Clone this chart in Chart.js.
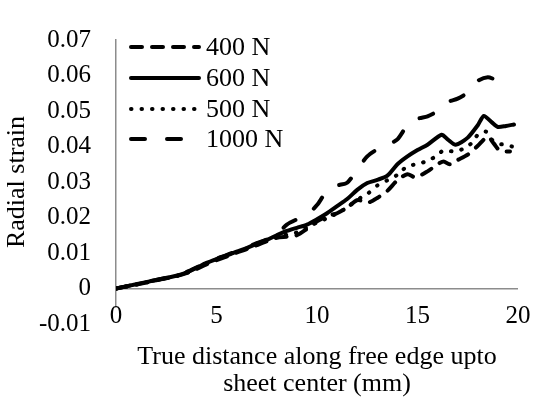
<!DOCTYPE html>
<html>
<head>
<meta charset="utf-8">
<title>Radial strain</title>
<script src="https://cdn.jsdelivr.net/npm/chart.js@4/dist/chart.umd.min.js"></script>
<style>
  html, body { margin: 0; padding: 0; background: #fff; }
  #wrap { width: 534px; height: 398px; }
</style>
</head>
<body>
<div id="wrap"><canvas id="strainChart" width="534" height="398"></canvas></div>
<script>
// Dados (distância em mm, deformação radial)
const dist400 = [0, 1, 2, 3, 3.5, 4, 4.5, 5, 5.5, 6, 6.5, 7, 7.5, 8, 8.5, 9, 9.5, 10, 10.5, 11, 11.5, 12, 12.3, 12.6, 13, 13.5, 14, 14.5, 14.9, 15.5, 16, 16.3, 16.6, 17, 17.5, 18, 18.5, 18.8, 19.1, 19.6];
const strain400 = [0, 0.0011, 0.0023, 0.0035, 0.0043, 0.0055, 0.0068, 0.0080, 0.0090, 0.0101, 0.0111, 0.0122, 0.0133, 0.0143, 0.0146, 0.0150, 0.0168, 0.0189, 0.0204, 0.0212, 0.0228, 0.0249, 0.0246, 0.0243, 0.0255, 0.0275, 0.0305, 0.0322, 0.0313, 0.0330, 0.0350, 0.0358, 0.0350, 0.0362, 0.0377, 0.0402, 0.0428, 0.0408, 0.0388, 0.0386];

const dist600 = [0, 1, 2, 3, 3.5, 4, 4.5, 5, 5.5, 6, 6.5, 7, 7.5, 8, 8.5, 9, 9.5, 10, 10.5, 11, 11.5, 12, 12.5, 13, 13.5, 14, 14.5, 15, 15.5, 16.2, 16.5, 16.9, 17.5, 18, 18.3, 18.7, 19, 19.4, 19.8];
const strain600 = [0, 0.0012, 0.0024, 0.0036, 0.0045, 0.0058, 0.0072, 0.0083, 0.0093, 0.0104, 0.0114, 0.0126, 0.0137, 0.0150, 0.0162, 0.0171, 0.0180, 0.0195, 0.0212, 0.0232, 0.0252, 0.0278, 0.0297, 0.0306, 0.0318, 0.0350, 0.0372, 0.0390, 0.0405, 0.0433, 0.0420, 0.0405, 0.0425, 0.0460, 0.0486, 0.0468, 0.0455, 0.0458, 0.0462];

const dist500 = [0, 1, 2, 3, 3.5, 4, 4.5, 5, 5.5, 6, 6.5, 7, 7.5, 8, 8.5, 9, 9.5, 10, 10.5, 11, 11.5, 12, 12.5, 13, 13.5, 14, 14.5, 15, 15.5, 16, 16.3, 16.8, 17.3, 17.7, 18, 18.4, 18.6, 18.9, 19.3, 19.7];
const strain500 = [0, 0.0011, 0.0023, 0.0035, 0.0044, 0.0056, 0.0070, 0.0082, 0.0092, 0.0103, 0.0113, 0.0124, 0.0135, 0.0147, 0.0152, 0.0158, 0.0172, 0.0186, 0.0198, 0.0212, 0.0228, 0.0250, 0.0266, 0.0290, 0.0305, 0.0320, 0.0345, 0.0350, 0.0360, 0.0375, 0.0390, 0.0386, 0.0394, 0.0410, 0.0433, 0.0442, 0.0425, 0.0410, 0.0405, 0.0400];

const dist1000 = [0, 1, 2, 3, 3.5, 4, 4.5, 5, 5.5, 6, 6.5, 7, 7.5, 8, 8.5, 9, 9.5, 10, 10.5, 11, 11.5, 12, 12.5, 13, 13.5, 14, 14.5, 15, 15.5, 16, 16.5, 17, 17.5, 18, 18.5, 18.9, 19.3, 19.7];
const strain1000 = [0, 0.0012, 0.0024, 0.0036, 0.0046, 0.0059, 0.0073, 0.0084, 0.0094, 0.0105, 0.0116, 0.0128, 0.0138, 0.0152, 0.0180, 0.0195, 0.0207, 0.0235, 0.0275, 0.0290, 0.0298, 0.0335, 0.0372, 0.0392, 0.0405, 0.0420, 0.0460, 0.0478, 0.0485, 0.0500, 0.0525, 0.0535, 0.0552, 0.0585, 0.0595, 0.0588, 0.0584, 0.0592];

const seriesLabels = ['400 N', '600 N', '500 N', '1000 N'];
const xTicks = [0, 5, 10, 15, 20];
const yTicks = [-0.01, 0, 0.01, 0.02, 0.03, 0.04, 0.05, 0.06, 0.07];

const FONT = '"Liberation Serif", "Times New Roman", serif';
const AXIS_GRAY = '#8c8c8c';

function toPoints(xs, ys) {
    return xs.map((x, i) => ({ x: x, y: ys[i] }));
}

function lineStyle(dash) {
    return {
        borderColor: '#000',
        backgroundColor: '#000',
        borderWidth: 4,
        borderDash: dash,
        borderCapStyle: 'round',
        borderJoinStyle: 'round',
        pointRadius: 0,
        pointHoverRadius: 0,
        tension: 0.25,
        fill: false
    };
}

// Legenda desenhada dentro da área do gráfico (como no Excel)
const insideLegend = {
    id: 'insideLegend',
    afterDatasetsDraw(chart) {
        const ctx = chart.ctx;
        const rows = [47, 78, 109, 139];
        chart.data.datasets.forEach((ds, i) => {
            const y = rows[i];
            ctx.save();
            ctx.strokeStyle = ds.borderColor;
            ctx.lineWidth = ds.borderWidth;
            ctx.lineCap = 'round';
            ctx.setLineDash(ds.borderDash || []);
            ctx.beginPath();
            ctx.moveTo(131, y);
            ctx.lineTo(199, y);
            ctx.stroke();
            ctx.setLineDash([]);
            ctx.fillStyle = '#000';
            ctx.font = '26px ' + FONT;
            ctx.textBaseline = 'middle';
            ctx.textAlign = 'left';
            ctx.fillText(ds.label, 206, y + 1);
            ctx.restore();
        });
    }
};

new Chart(document.getElementById('strainChart'), {
    type: 'line',
    data: {
        datasets: [
            Object.assign({ label: seriesLabels[0], data: toPoints(dist400, strain400) }, lineStyle([11, 10])),
            Object.assign({ label: seriesLabels[1], data: toPoints(dist600, strain600) }, lineStyle([])),
            Object.assign({ label: seriesLabels[2], data: toPoints(dist500, strain500) }, lineStyle([0.5, 10])),
            Object.assign({ label: seriesLabels[3], data: toPoints(dist1000, strain1000) }, lineStyle([14, 22]))
        ]
    },
    options: {
        responsive: false,
        animation: false,
        events: [],
        layout: { padding: { left: 0, top: 17, right: 16, bottom: 0 } },
        plugins: {
            legend: { display: false },
            tooltip: { enabled: false }
        },
        scales: {
            x: {
                type: 'linear',
                min: 0,
                max: 20,
                afterFit(scale) { scale.height = 74; },
                afterBuildTicks(scale) { scale.ticks = xTicks.map(v => ({ value: v })); },
                grid: { display: false, drawTicks: false },
                border: { display: false },
                ticks: {
                    z: 1,
                    // rótulos acima da borda inferior, logo abaixo da linha do zero
                    mirror: true,
                    padding: -7.5,
                    color: '#000',
                    font: { family: FONT, size: 25 },
                    maxRotation: 0,
                    autoSkip: false,
                    showLabelBackdrop: true,
                    backdropColor: '#fff',
                    backdropPadding: { top: -6, bottom: 0, left: 0, right: 0 },
                    callback: v => String(v)
                },
                title: {
                    display: true,
                    text: ['True distance along free edge upto', 'sheet center (mm)'],
                    color: '#000',
                    font: { family: FONT, size: 26, lineHeight: '27px' },
                    padding: { top: 0, bottom: 0 }
                }
            },
            y: {
                min: -0.01,
                max: 0.07,
                afterFit(scale) { scale.width = 116; },
                afterBuildTicks(scale) { scale.ticks = yTicks.map(v => ({ value: v })); },
                grid: {
                    drawTicks: false,
                    lineWidth: 1.5,
                    // só a linha do zero aparece (eixo horizontal)
                    color: ctx => (ctx.tick && Math.abs(ctx.tick.value) < 1e-9) ? AXIS_GRAY : 'rgba(0,0,0,0)'
                },
                border: { display: true, color: AXIS_GRAY, width: 1.5 },
                ticks: {
                    padding: 25,
                    color: '#000',
                    font: { family: FONT, size: 25 },
                    callback: v => {
                        const r = Math.round(v * 100) / 100;
                        return r === 0 ? '0' : r.toFixed(2);
                    }
                },
                title: {
                    display: true,
                    text: 'Radial strain',
                    color: '#000',
                    font: { family: FONT, size: 26 },
                    padding: { top: 2, bottom: 0 }
                }
            }
        }
    },
    plugins: [insideLegend]
});
</script>
</body>
</html>
